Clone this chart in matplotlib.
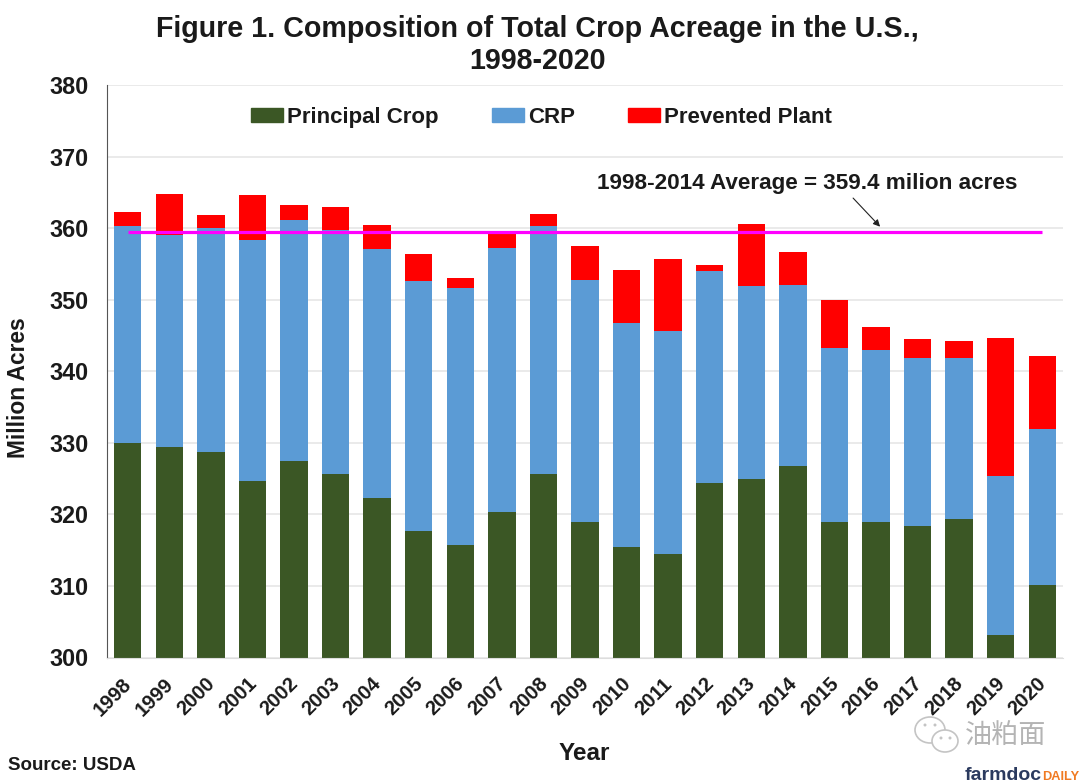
import matplotlib
matplotlib.use("Agg")
import matplotlib.pyplot as plt
from matplotlib.patches import Patch, Ellipse
from matplotlib.transforms import ScaledTranslation

plt.rcParams['font.family'] = ['Liberation Sans', 'Noto Sans CJK SC', 'DejaVu Sans']

years = [str(y) for y in range(1998, 2021)]
# tops of each stack
principal = [330.0, 329.4, 328.7, 324.7, 327.4, 325.7, 322.3, 317.7, 315.7, 320.3, 325.7, 319.0,
             315.5, 314.4, 324.4, 325.0, 326.7, 319.0, 319.0, 318.4, 319.4, 303.2, 310.2]
crp_top = [360.3, 359.0, 360.0, 358.3, 361.2, 359.8, 357.1, 352.6, 351.7, 357.2, 360.3, 352.8,
           346.8, 345.6, 354.0, 351.9, 352.0, 343.2, 342.9, 341.8, 341.9, 325.3, 332.0]
pp_top = [362.2, 364.8, 361.9, 364.6, 363.2, 362.9, 360.4, 356.4, 353.1, 359.5, 362.0, 357.5,
          354.2, 355.7, 354.9, 360.6, 356.7, 349.9, 346.2, 344.5, 344.2, 344.7, 342.2]
average = 359.4
y_ticks = list(range(300, 381, 10))

GREEN = '#3b5725'
BLUE = '#5b9bd5'
RED = '#ff0000'
MAGENTA = '#ff00ff'
TEXT = '#1a1a1a'

W, H = 1080, 783
fig = plt.figure(figsize=(10.8, 7.83), dpi=100)
ax = fig.add_axes([107 / W, 1 - 657.5 / H, (1063 - 107) / W, (657.5 - 85) / H])

x = list(range(len(years)))
w = 0.66
ax.bar(x, [p - 300 for p in principal], w, bottom=300, color=GREEN)
ax.bar(x, [c - p for c, p in zip(crp_top, principal)], w, bottom=principal, color=BLUE)
ax.bar(x, [t - c for t, c in zip(pp_top, crp_top)], w, bottom=crp_top, color=RED)
ax.plot([0, 22], [average, average], color=MAGENTA, lw=2.3, solid_capstyle='butt')

ax.set_xlim(-0.5, 22.5)
ax.set_ylim(300, 380)
ax.set_yticks(y_ticks)
ax.set_xticks(x)
ax.set_xticklabels(years, rotation=45, ha='right', rotation_mode='anchor', fontsize=14.5,
                   fontweight='bold', color=TEXT)
ax.yaxis.grid(True, color='#e6e6e6', lw=1.2)
ax.set_axisbelow(True)
ax.tick_params(axis='y', labelsize=16.8, length=0, pad=13.5, labelcolor=TEXT)
ax.tick_params(axis='x', length=0, pad=12)
for lab in ax.get_yticklabels():
    lab.set_fontweight('bold')
# the year labels sit a little left of their bars
shift = ScaledTranslation(-4 / 72, 0, fig.dpi_scale_trans)
for lab in ax.get_xticklabels():
    lab.set_transform(lab.get_transform() + shift)
ax.spines['top'].set_visible(False)
ax.spines['right'].set_visible(False)
ax.spines['left'].set_color('#555555')
ax.spines['bottom'].set_color('#dddddd')

fig.text(0.498, 0.981, 'Figure 1. Composition of Total Crop Acreage in the U.S.,\n1998-2020',
         ha='center', va='top', fontsize=20.6, fontweight='bold', linespacing=1.2, color=TEXT)
fig.text(19 / W, 1 - 388 / H, 'Million Acres', rotation=90, ha='center', va='center',
         fontsize=16.4, fontweight='bold', color=TEXT)
fig.text(584 / W, 1 - 754 / H, 'Year', ha='center', va='center', fontsize=17.5,
         fontweight='bold', color=TEXT)

handles = [Patch(color=GREEN), Patch(color=BLUE), Patch(color=RED)]
ax.legend(handles, ['Principal Crop', 'CRP', 'Prevented Plant'], loc='center',
          bbox_to_anchor=(0.4545, 0.944), ncol=3, frameon=False, handlelength=1.44, handleheight=0.6,
          handletextpad=0.18, columnspacing=2.4,
          prop={'size': 16, 'weight': 'bold'}, labelcolor=TEXT)

ax.text(16.34, 366.2, '1998-2014 Average = 359.4 milion acres', ha='center', va='center',
        fontsize=16.2, fontweight='bold', color=TEXT)
ax.annotate('', xy=(18.1, 360.2), xytext=(17.45, 364.2),
            arrowprops=dict(arrowstyle='-|>', color='#222222', lw=0.8, shrinkA=0, shrinkB=0))

fig.text(8 / W, 1 - 766 / H, 'Source: USDA', ha='left', va='center', fontsize=13.5,
         fontweight='bold', color=TEXT)
fig.text(965 / W, 1 - 776 / H, 'farmdoc', ha='left', va='center', fontsize=14,
         fontweight='bold', color='#2b3a5e')
fig.text(1042 / W, 1 - 777 / H, 'DAILY', ha='left', va='center', fontsize=9.2,
         fontweight='bold', color='#f07a22')

# watermark: two chat bubbles and the account name
for cx, cy, rx, ry in [(930, 730, 15, 13), (945, 741, 13, 11)]:
    fig.add_artist(Ellipse((cx / W, 1 - cy / H), 2 * rx / W, 2 * ry / H, transform=fig.transFigure,
                           facecolor='white', edgecolor='#c4c4c4', lw=1.2))
for cx, cy in [(925, 725), (935, 725), (941, 738), (950, 738)]:
    fig.add_artist(Ellipse((cx / W, 1 - cy / H), 3 / W, 3 / H, transform=fig.transFigure,
                           facecolor='#c4c4c4', edgecolor='none'))
fig.text(1006 / W, 1 - 736 / H, '油粕面', ha='center', va='center', fontsize=19.5, color='#b4b4b4')

fig.savefig('out.png', dpi=100)
